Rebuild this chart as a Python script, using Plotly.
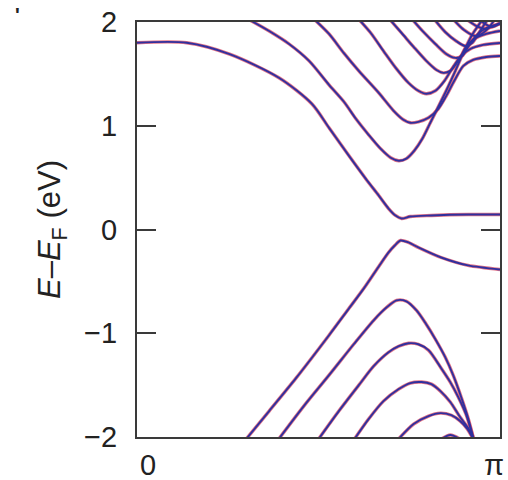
import plotly.graph_objects as go

# Band structure along k (in units of pi), energies relative to E_F in eV.
# Conduction bands
c1_k = [0.0, 0.137, 0.255, 0.392, 0.482, 0.529, 0.584, 0.630, 0.666, 0.693, 0.712, 0.729, 0.753, 0.811, 0.912, 1.0]
c1_e = [1.80, 1.80, 1.69, 1.46, 1.21, 0.98, 0.71, 0.49, 0.327, 0.202, 0.135, 0.106, 0.125, 0.135, 0.144, 0.144]

c2_k = [0.31, 0.364, 0.419, 0.474, 0.529, 0.570, 0.603, 0.638, 0.671, 0.699, 0.721, 0.742, 0.764, 0.786,
        0.808, 0.830, 0.849, 0.877, 0.901, 0.923, 0.945, 0.952]
c2_e = [2.02, 1.913, 1.788, 1.625, 1.394, 1.231, 1.067, 0.913, 0.779, 0.692, 0.663, 0.683, 0.76, 0.875,
        1.029, 1.183, 1.317, 1.529, 1.721, 1.875, 1.99, 2.03]

c3_k = [0.49, 0.529, 0.570, 0.611, 0.666, 0.707, 0.734, 0.753, 0.775, 0.803, 0.830, 0.852, 0.874, 0.899, 0.926, 0.962, 1.0]
c3_e = [2.02, 1.885, 1.70, 1.529, 1.317, 1.144, 1.058, 1.029, 1.038, 1.077, 1.163, 1.288, 1.433, 1.577, 1.635, 1.663, 1.673]

c4_k = [0.61, 0.644, 0.679, 0.715, 0.748, 0.775, 0.797, 0.822, 0.847, 0.871, 0.893, 0.918, 0.953, 1.0]
c4_e = [2.03, 1.894, 1.721, 1.548, 1.413, 1.337, 1.308, 1.337, 1.433, 1.567, 1.673, 1.74, 1.779, 1.798]

c5_k = [0.695, 0.729, 0.762, 0.797, 0.825, 0.844, 0.863, 0.885, 0.907, 0.929, 0.962, 1.0]
c5_e = [2.03, 1.894, 1.76, 1.625, 1.538, 1.51, 1.529, 1.625, 1.76, 1.837, 1.885, 1.913]

c6_k = [0.757, 0.789, 0.822, 0.852, 0.877, 0.896, 0.912, 0.934, 0.962, 1.0]
c6_e = [2.03, 1.904, 1.788, 1.692, 1.654, 1.673, 1.76, 1.865, 1.942, 1.98]

c7_k = [0.818, 0.849, 0.879, 0.904, 0.923, 0.940, 0.956, 0.967]
c7_e = [2.03, 1.904, 1.817, 1.769, 1.798, 1.885, 1.971, 2.03]

c8_k = [0.870, 0.901, 0.932, 0.953, 0.973, 0.986]
c8_e = [2.03, 1.923, 1.865, 1.894, 1.962, 2.03]

c9_k = [0.910, 0.940, 0.962, 0.981, 1.0]
c9_e = [2.02, 1.952, 1.933, 1.962, 1.99]

c10_k = [0.943, 0.978, 1.0]
c10_e = [2.02, 1.952, 1.99]

# Valence bands
v1_k = [0.296, 0.364, 0.438, 0.529, 0.584, 0.625, 0.666, 0.693, 0.710, 0.726, 0.748, 0.775, 0.838, 0.912, 1.0]
v1_e = [-2.04, -1.75, -1.433, -1.019, -0.76, -0.567, -0.356, -0.221, -0.154, -0.106, -0.125, -0.173, -0.27, -0.346, -0.385]

v2_k = [0.386, 0.460, 0.529, 0.597, 0.652, 0.688, 0.715, 0.742, 0.770, 0.795, 0.822, 0.849, 0.871, 0.893, 0.912, 0.928]
v2_e = [-2.04, -1.70, -1.404, -1.106, -0.875, -0.75, -0.683, -0.692, -0.78, -0.904, -1.058, -1.23, -1.404, -1.615, -1.817, -2.03]

v3_k = [0.496, 0.556, 0.611, 0.652, 0.693, 0.721, 0.748, 0.775, 0.803, 0.838, 0.863, 0.885, 0.907, 0.928]
v3_e = [-2.04, -1.75, -1.5, -1.317, -1.183, -1.125, -1.096, -1.106, -1.163, -1.337, -1.471, -1.615, -1.788, -2.03]

v4_k = [0.595, 0.638, 0.679, 0.721, 0.753, 0.784, 0.811, 0.836, 0.863, 0.890, 0.912, 0.928]
v4_e = [-2.04, -1.827, -1.654, -1.538, -1.48, -1.47, -1.49, -1.558, -1.663, -1.808, -1.913, -2.03]

v5_k = [0.715, 0.762, 0.803, 0.836, 0.866, 0.890, 0.910, 0.928]
v5_e = [-2.04, -1.875, -1.798, -1.77, -1.79, -1.846, -1.923, -2.03]

v6_k = [0.830, 0.863, 0.899]
v6_e = [-2.04, -1.98, -2.04]

bands = [
    (c1_k, c1_e), (c2_k, c2_e), (c3_k, c3_e), (c4_k, c4_e), (c5_k, c5_e),
    (c6_k, c6_e), (c7_k, c7_e), (c8_k, c8_e), (c9_k, c9_e), (c10_k, c10_e),
    (v1_k, v1_e), (v2_k, v2_e), (v3_k, v3_e), (v4_k, v4_e), (v5_k, v5_e), (v6_k, v6_e),
]

fig = go.Figure()

# Two calculations drawn on top of each other: red beneath, blue above
for color, width in (("rgba(215,70,95,0.75)", 3.4), ("#30309e", 1.9)):
    for k, e in bands:
        fig.add_trace(go.Scatter(
            x=k, y=e, mode="lines",
            line=dict(color=color, width=width, shape="spline", smoothing=0.8),
            hoverinfo="skip", showlegend=False,
        ))

axis_color = "#3a3a3a"
font_family = "Liberation Sans, Arial, sans-serif"
text_color = "#222"

fig.update_layout(
    width=508, height=480,
    margin=dict(l=137, r=6, t=21, b=43),
    paper_bgcolor="white", plot_bgcolor="white",
    font=dict(family=font_family, size=29, color=text_color),
    showlegend=False,
)

fig.update_xaxes(
    range=[0, 1], showgrid=False, zeroline=False,
    showline=True, linecolor=axis_color, linewidth=2, mirror=True,
    ticks="", showticklabels=False,
)

fig.update_yaxes(
    range=[-2, 2], showgrid=False, zeroline=False,
    showline=True, linecolor=axis_color, linewidth=2, mirror="ticks",
    tickvals=[-2, -1, 0, 1, 2], ticktext=["\u22122", "\u22121", "0", "1", "2"],
    ticks="inside", ticklen=19, tickwidth=2, tickcolor=axis_color,
    ticklabelstandoff=12,
    tickfont=dict(size=29, family=font_family, color=text_color),
    title=dict(text="<i>E</i>\u2013<i>E</i><sub>F</sub> (eV)",
               font=dict(size=31, family=font_family, color=text_color), standoff=14),
)

# k-axis end labels
fig.add_annotation(x=0, y=0, xref="x", yref="paper", text="0", showarrow=False,
                   xanchor="left", yanchor="top", xshift=1, yshift=-10,
                   font=dict(size=29, family=font_family, color=text_color))
fig.add_annotation(x=1, y=0, xref="x", yref="paper", text="\u03c0", showarrow=False,
                   xanchor="right", yanchor="top", xshift=6, yshift=-10,
                   font=dict(size=29, family=font_family, color=text_color))

# small panel mark at the upper-left corner
fig.add_annotation(x=-0.33, y=1.017, xref="paper", yref="paper", text="<b>'</b>", showarrow=False,
                   xanchor="center", yanchor="middle",
                   font=dict(size=20, family=font_family, color=text_color))

fig.write_html("out.html")
